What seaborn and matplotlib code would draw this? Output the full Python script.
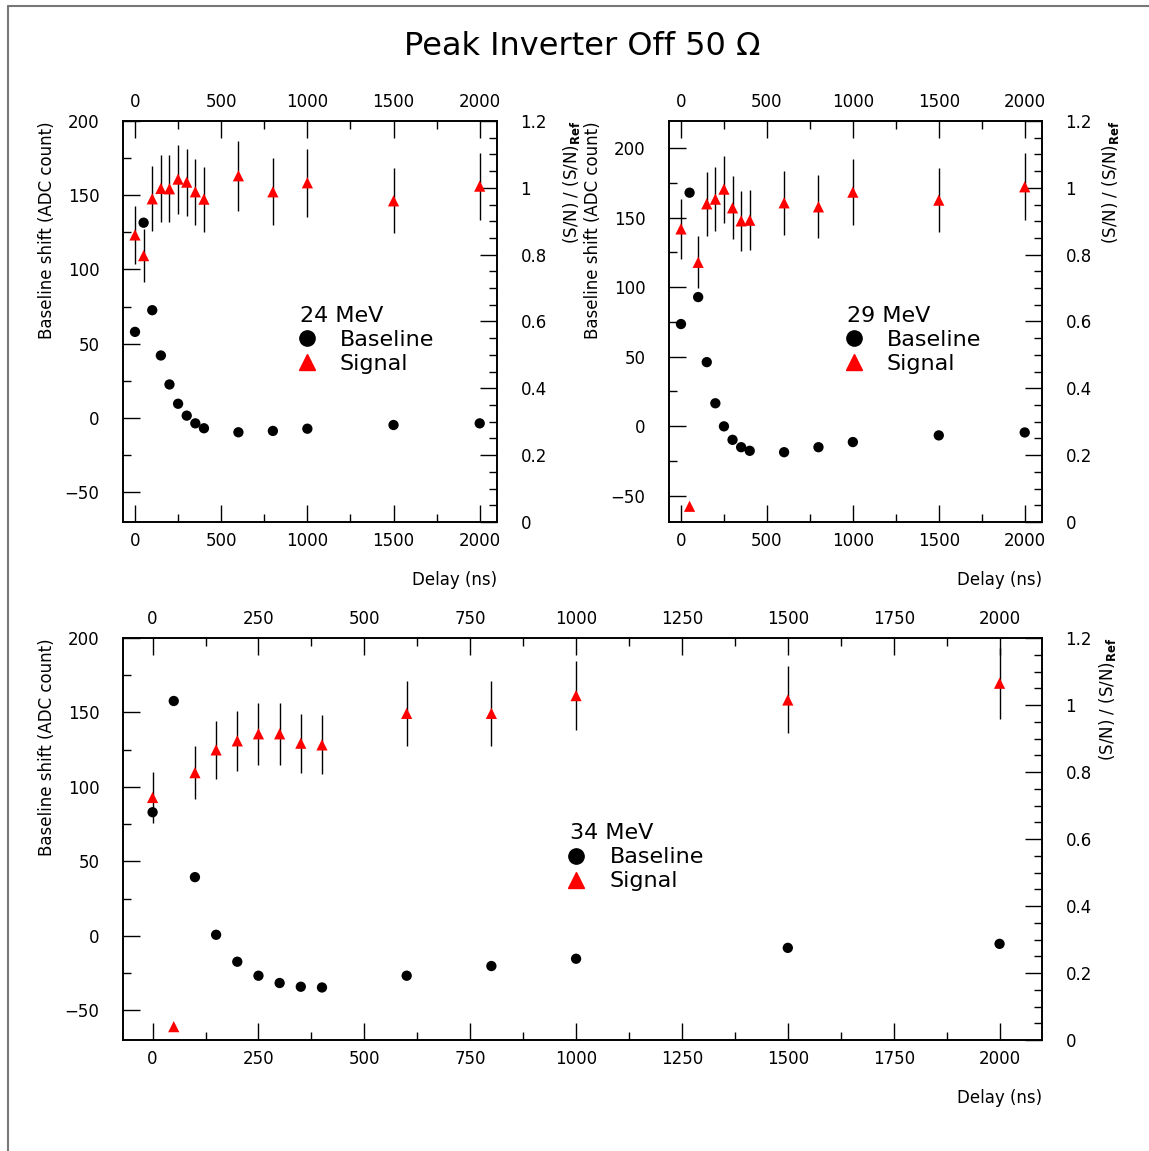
"""
Peak inverter off, 50 Ohm: baseline shift and S/N ratio vs delay
"""

import matplotlib
matplotlib.use("Agg")
import matplotlib.pyplot as plt
import seaborn as sns
from matplotlib.lines import Line2D
from matplotlib.ticker import MultipleLocator, FormatStrFormatter

# Set style
sns.set_style("ticks")
plt.rcParams['font.family'] = ['DejaVu Sans']
plt.rcParams['mathtext.fontset'] = 'dejavusans'
plt.rcParams['axes.linewidth'] = 1.2
for key in ['text.color', 'axes.labelcolor', 'xtick.color', 'ytick.color', 'axes.edgecolor']:
    plt.rcParams[key] = 'black'

# ===== DATA =====
delay = [0, 50, 100, 150, 200, 250, 300, 350, 400, 600, 800, 1000, 1500, 2000]

base_24 = [58.0, 131.5, 72.6, 42.1, 22.6, 9.6, 1.6, -3.6, -6.9, -9.6, -8.7, -7.2, -4.7, -3.6]
sig_24 = [0.859, 0.797, 0.967, 0.998, 0.997, 1.026, 1.017, 0.988, 0.966, 1.036, 0.988, 1.015, 0.961, 1.005]
err_24 = [0.086, 0.080, 0.097, 0.100, 0.100, 0.103, 0.100, 0.099, 0.097, 0.104, 0.100, 0.101, 0.097, 0.100]

base_29 = [73.4, 167.9, 92.8, 46.0, 16.4, -0.2, -9.9, -15.2, -17.8, -18.8, -15.2, -11.5, -6.7, -4.6]
sig_29 = [0.877, 0.047, 0.777, 0.952, 0.966, 0.996, 0.940, 0.901, 0.903, 0.955, 0.943, 0.987, 0.963, 1.003]
err_29 = [0.089, 0.0, 0.078, 0.096, 0.096, 0.100, 0.094, 0.090, 0.090, 0.095, 0.094, 0.098, 0.096, 0.100]

base_34 = [83.0, 157.7, 39.4, 0.7, -17.4, -26.8, -31.7, -34.2, -34.7, -26.8, -20.3, -15.4, -8.1, -5.4]
sig_34 = [0.724, 0.040, 0.798, 0.866, 0.893, 0.914, 0.914, 0.886, 0.881, 0.975, 0.975, 1.028, 1.015, 1.065]
err_34 = [0.075, 0.0, 0.080, 0.086, 0.089, 0.092, 0.092, 0.088, 0.088, 0.097, 0.097, 0.103, 0.100, 0.106]

TICK_FS = 12
LABEL_FS = 12
LEG_FS = 16


def draw_panel(ax, base, sig, err, energy, xmajor, ylim, lab_x_left, lab_x_right, leg_x):
    # baseline shift on the left axis
    sns.scatterplot(x=delay, y=base, ax=ax, color='black', marker='o', s=55,
                    edgecolor='none', zorder=3)
    ax.set_xlim(-70, 2100)
    ax.set_ylim(*ylim)

    # S/N ratio on the right axis
    ax2 = ax.twinx()
    ax2.errorbar(delay, sig, yerr=err, fmt='none', ecolor='black',
                 elinewidth=1.0, capsize=0, zorder=2)
    sns.scatterplot(x=delay, y=sig, ax=ax2, color='red', marker='^', s=65,
                    edgecolor='none', zorder=3)
    ax2.set_ylim(0, 1.2)

    # ticks
    ax.xaxis.set_major_locator(MultipleLocator(xmajor))
    ax.xaxis.set_minor_locator(MultipleLocator(xmajor / 2))
    ax.yaxis.set_major_locator(MultipleLocator(50))
    ax.yaxis.set_minor_locator(MultipleLocator(25))
    ax2.yaxis.set_major_locator(MultipleLocator(0.2))
    ax2.yaxis.set_minor_locator(MultipleLocator(0.05))
    ax2.yaxis.set_major_formatter(FormatStrFormatter('%g'))

    ax.tick_params(axis='x', which='both', direction='in', top=True, bottom=True,
                   labeltop=True, labelbottom=True, pad=7, labelsize=TICK_FS)
    ax.tick_params(axis='y', which='both', direction='in', left=True, right=False,
                   pad=17, labelsize=TICK_FS)
    ax2.tick_params(axis='y', which='both', direction='in', pad=17, labelsize=TICK_FS)
    for a in (ax, ax2):
        a.tick_params(which='major', length=12, width=1.0)
        a.tick_params(which='minor', length=6, width=1.0)

    # labels
    ax.set_xlabel('Delay (ns)', loc='right', fontsize=LABEL_FS, labelpad=15)
    ax.set_ylabel('Baseline shift (ADC count)', loc='top', fontsize=LABEL_FS)
    ax.yaxis.set_label_coords(lab_x_left, 1.0)
    ax2.set_ylabel(r'(S/N) / (S/N)$_{\mathbf{Ref}}$', loc='top', fontsize=LABEL_FS)
    ax2.yaxis.set_label_coords(lab_x_right, 1.0)

    # legend
    handles = [Line2D([], [], marker='o', color='black', linestyle='none', markersize=11),
               Line2D([], [], marker='^', color='red', linestyle='none', markersize=12)]
    ax2.legend(handles=handles, labels=['Baseline', 'Signal'], title=energy,
               loc='upper left', bbox_to_anchor=(leg_x, 0.539), frameon=False,
               fontsize=LEG_FS, title_fontsize=LEG_FS, alignment='left',
               handlelength=0.6, handletextpad=1.2, labelspacing=0.18,
               borderpad=0, borderaxespad=0)
    return ax2


fig = plt.figure(figsize=(11.49, 11.51), dpi=100)

ax_a = fig.add_axes([0.1070, 0.5465, 0.3255, 0.3484])
ax_b = fig.add_axes([0.5822, 0.5465, 0.3246, 0.3484])
ax_c = fig.add_axes([0.1070, 0.0964, 0.7998, 0.3493])

draw_panel(ax_a, base_24, sig_24, err_24, '24 MeV', 500, (-70, 200), -0.179, 1.17, 0.473)
draw_panel(ax_b, base_29, sig_29, err_29, '29 MeV', 500, (-69, 219.5), -0.18, 1.155, 0.477)
draw_panel(ax_c, base_34, sig_34, err_34, '34 MeV', 250, (-70, 200), -0.073, 1.06, 0.486)

fig.text(0.507, 0.96, 'Peak Inverter Off 50 \u03a9', ha='center', va='center', fontsize=23)

# pad frame (top and left edges)
fig.add_artist(Line2D([8 / 1149, 8 / 1149], [0, 1 - 6 / 1151], transform=fig.transFigure,
                      color='#777777', linewidth=1.5))
fig.add_artist(Line2D([8 / 1149, 1], [1 - 6 / 1151, 1 - 6 / 1151], transform=fig.transFigure,
                      color='#777777', linewidth=1.5))

plt.savefig('out.png', dpi=100)
